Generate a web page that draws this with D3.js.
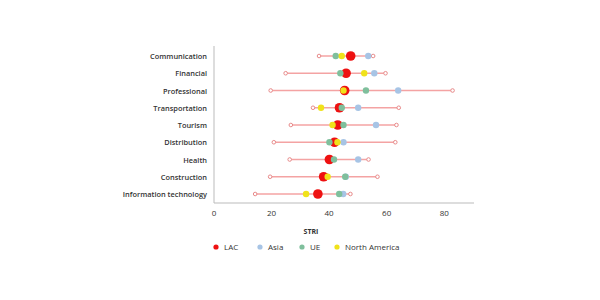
<!DOCTYPE html>
<html>
<head>
<meta charset="utf-8">
<script src="https://cdn.jsdelivr.net/npm/d3@7"></script>
<style>
body{margin:0;background:#fff;}
text{font-family:"Open Sans",Lato,sans-serif;fill:#333;}
</style>
</head>
<body>
<div id="vis"></div>
<script>
// sectors, top to bottom
var sectors = ["Communication","Financial","Professional","Transportation","Tourism","Distribution","Health","Construction","Information technology"];
// range of the index in each sector
var minVals = [36.5,24.9,19.7,34.4,26.7,20.8,26.3,19.5,14.3];
var maxVals = [55.3,59.6,82.9,64.2,63.4,63.0,53.7,56.8,47.4];
// region averages
var lac = [47.5,45.9,45.4,43.6,43.0,41.9,40.1,38.1,36.1];
var asia = [53.6,55.7,64.0,50.1,56.3,45.0,50.1,45.8,44.9];
var ue = [42.3,43.9,52.8,44.4,45.0,40.1,41.7,45.6,43.5];
var northAm = [44.4,52.2,45.0,37.2,41.2,42.9,null,39.5,32.0];
var xTicks = [0,20,40,60,80];
var regions = ["LAC","Asia","UE","North America"];
var colors = {"LAC":"#ee1111","Asia":"#a7c4e5","UE":"#7fbf9c","North America":"#f0e21a"};

var svg = d3.select("#vis").append("svg").attr("width",600).attr("height",300);

var x = d3.scaleLinear().domain([0,90]).range([214,473]);
var y = d3.scalePoint().domain(sectors).range([56,194]);

// axes
svg.append("line").attr("x1",214).attr("x2",214).attr("y1",46).attr("y2",203).attr("stroke","#bbb").attr("stroke-width",1);
svg.append("line").attr("x1",214).attr("x2",474).attr("y1",203).attr("y2",203).attr("stroke","#bbb").attr("stroke-width",1);

for(i in xTicks){
    svg.append("text").text(xTicks[i]).attr("x",x(xTicks[i])).attr("y",216)
        .attr("style","text-anchor:middle;font-size:8px;");}

for(i in sectors){
    svg.append("text").text(sectors[i]).attr("x",207).attr("y",y(sectors[i])+3)
        .attr("style","text-anchor:end;font-size:7.4px;font-weight:600;");}

// range lines with open ends
var g = svg.append("g");
sectors.forEach(function(s,i){
    g.append("line").attr("x1",x(minVals[i])).attr("x2",x(maxVals[i])).attr("y1",y(s)).attr("y2",y(s))
        .attr("stroke","#f4a3a3").attr("stroke-width",1.5);
    [minVals[i],maxVals[i]].forEach(function(v){
        g.append("circle").attr("cx",x(v)).attr("cy",y(s)).attr("r",1.8)
            .attr("fill","#fff").attr("stroke","#e88a8a").attr("stroke-width",1);});
});

// dots: LAC first, then the others on top
var series = [["LAC",lac,4.8],["Asia",asia,3.2],["UE",ue,3.2],["North America",northAm,3.2]];
series.forEach(function(se){
    g.selectAll(null).data(sectors.map(function(s,i){return {s:s,v:se[1][i]};}).filter(function(d){return d.v!=null;}))
        .enter().append("circle")
        .attr("cx",function(d){return x(d.v);})
        .attr("cy",function(d){return y(d.s);})
        .attr("r",se[2])
        .attr("fill",colors[se[0]]);
});

// axis title
svg.append("text").text("STRI").attr("x",311).attr("y",234).attr("style","text-anchor:middle;font-size:7px;font-weight:700;");

// legend
var legX = [216,260,302,337];
regions.forEach(function(r,i){
    svg.append("circle").attr("cx",legX[i]).attr("cy",247).attr("r",2.6).attr("fill",colors[r]);
    svg.append("text").text(r).attr("x",legX[i]+8).attr("y",250).attr("style","font-size:8px;");
});
</script>
</body>
</html>
